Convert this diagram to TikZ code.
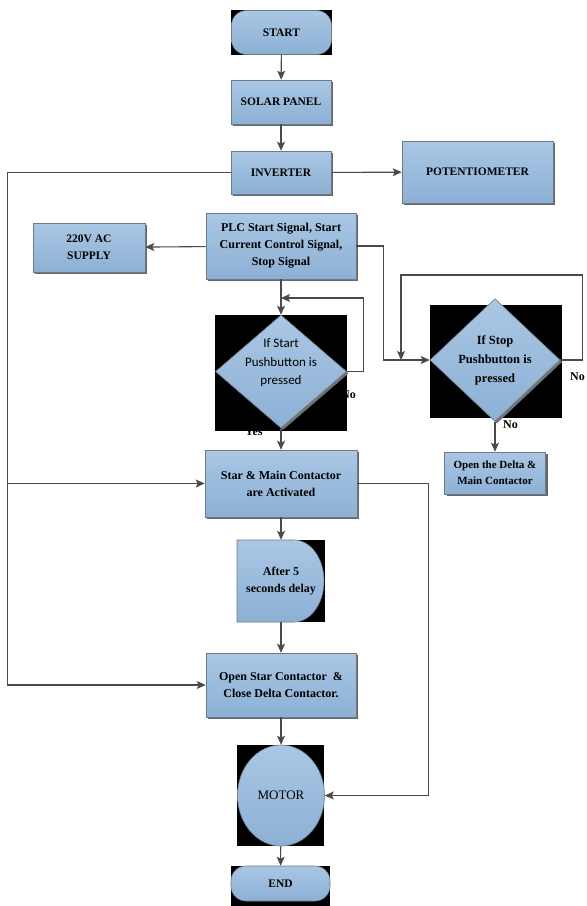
\documentclass[tikz,border=0pt]{standalone}
\usepackage{fontspec}
\setmainfont{Liberation Serif}
\newfontfamily\calfont{Carlito}
\usetikzlibrary{shapes.geometric,shapes.misc,arrows.meta,shadows,calc}

\definecolor{boxtop}{RGB}{170,199,228}
\definecolor{boxbot}{RGB}{140,176,213}
\definecolor{boxline}{RGB}{112,122,134}
\definecolor{linecol}{RGB}{74,74,74}

\tikzset{
  flowfill/.style={draw=boxline, line width=0.6pt, top color=boxtop, bottom color=boxbot,
    align=center, inner sep=0pt, text=black},
  box/.style={flowfill, drop shadow={shadow xshift=2pt, shadow yshift=-2pt, fill=black!60, opacity=1},
    font=\bfseries\fontsize{12}{17}\selectfont},
  capsbox/.style={box, font=\bfseries\fontsize{11.5}{17}\selectfont},
  term/.style={flowfill, rounded corners=15pt, font=\bfseries\fontsize{11.5}{14}\selectfont},
  decide/.style={flowfill, diamond, drop shadow={shadow xshift=2pt, shadow yshift=-2pt, fill=black!55, opacity=1}},
  qtext/.style={align=center, font=\calfont\fontsize{13}{18.5}\selectfont},
  tag/.style={font=\bfseries\fontsize{12}{14}\selectfont, inner sep=0pt},
  arr/.style={draw=linecol, line width=1.1pt, -{Stealth[length=9pt, width=8pt, inset=2pt]}}
}

\begin{document}
\begin{tikzpicture}[x=1pt,y=-1pt]
\useasboundingbox (0,0) rectangle (587,906);

% Yes/No under the black backs
\node[tag, anchor=base west] (yes) at (245,435) {Yes};
\node[tag, anchor=base west] (noa) at (341,398) {No};

% black backs
\fill (231,10) rectangle (332,55);
\fill (215,315) rectangle (347,431);
\fill (430,305) rectangle (562,418);
\fill (237,540) rectangle (325,622);
\fill (237,745) rectangle (324,846);
\fill (231,866) rectangle (330,906);

% delay shape
\shade[top color=boxtop, bottom color=boxbot, draw=boxline, line width=0.6pt]
  (237,540) -- (294,540) arc[start angle=90, end angle=-90, x radius=30pt, y radius=41pt]
  -- (237,622) -- cycle;

\node[term, minimum width=100pt, minimum height=44pt] (begin) at (281.5,32.5) {START};
\node[capsbox, minimum width=100pt, minimum height=44pt] (solar) at (281,102) {SOLAR PANEL};
\node[capsbox, minimum width=100pt, minimum height=43pt] (inverter) at (281,172.5) {INVERTER};
\node[capsbox, minimum width=151pt, minimum height=62pt] (pot) at (477.5,172) {POTENTIOMETER};
\node[box, minimum width=150pt, minimum height=66pt] (plc) at (281,246)
  {PLC Start Signal, Start\\Current Control Signal,\\Stop Signal};
\node[capsbox, minimum width=112pt, minimum height=49pt] (supply) at (89,247.5) {220V AC\\SUPPLY};

\node[decide, minimum width=131pt, minimum height=113pt] (startq) at (281,371.5) {};
\node[qtext] (startqt) at (281,363) {If Start\\Pushbutton is\\pressed};
\node[decide, minimum width=130pt, minimum height=110pt,
  font=\bfseries\fontsize{12.5}{19}\selectfont] (stopq) at (495,360) {If Stop\\Pushbutton is\\pressed};
\node[box, minimum width=101pt, minimum height=42pt,
  font=\bfseries\fontsize{11}{16}\selectfont] (opendelta) at (495,473) {Open the Delta \&\\Main Contactor};

\node[box, minimum width=152pt, minimum height=67pt] (star) at (281,483.5) {Star \& Main Contactor\\are Activated};
\node[minimum width=88pt, minimum height=82pt, align=center,
  font=\bfseries\fontsize{12}{17}\selectfont] (delay) at (281,581) {After 5\\seconds delay};
\node[box, minimum width=150pt, minimum height=64pt] (openstar) at (281,685)
  {Open Star Contactor \ \&\\Close Delta Contactor.};
\node[flowfill, ellipse, minimum width=87pt, minimum height=101pt,
  font=\fontsize{13}{15}\selectfont] (motor) at (281,795.5) {MOTOR};
\node[term, minimum width=99pt, minimum height=35pt] (finish) at (280.5,883.5) {END};

\node[tag, anchor=base west] (nob) at (570,380) {No};
\node[tag, anchor=base west] (noc) at (503,428) {No};

\coordinate (sloop) at (281,298);
\coordinate (tloop) at (401,360);

\draw[arr] (begin) -- (solar);
\draw[arr] (solar) -- (inverter);
\draw[arr] (inverter) -- (pot);
\draw[arr] (plc) -- (supply);
\draw[arr] (plc) -- (startq);
\draw[arr] (startq.east) -- ++(17,0) |- (sloop);
\draw[arr] (plc.east) -- ++(27,0) |- (stopq.west);
\draw[arr] (stopq.east) -- ++(22,0) -- ++(0,-85) -| (tloop);
\draw[arr] (stopq) -- (opendelta);
\draw[arr] (startq) -- (star);
\draw[arr] (inverter.west) -- ++(-223,0) |- (star.west);
\draw[arr] (inverter.west) -- ++(-223,0) |- (openstar.west);
\draw[arr] (star.east) -- ++(71,0) |- (motor.east);
\draw[arr] (star) -- (delay);
\draw[arr] (delay) -- (openstar);
\draw[arr] (openstar) -- (motor);
\draw[arr] (motor) -- (finish);
\end{tikzpicture}
\end{document}
